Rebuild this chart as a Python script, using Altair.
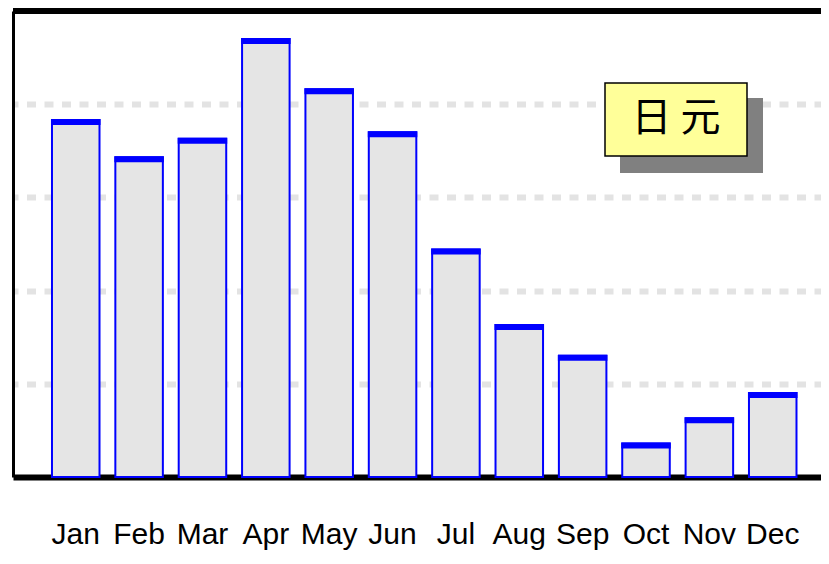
import altair as alt
import pandas as pd

months = ["Jan", "Feb", "Mar", "Apr", "May", "Jun", "Jul", "Aug", "Sep", "Oct", "Nov", "Dec"]
values = [3.83, 3.43, 3.63, 4.70, 4.16, 3.70, 2.44, 1.63, 1.30, 0.36, 0.63, 0.90]
legend_label = ["日 元"]
grid_values = [1, 2, 3, 4]

df = pd.DataFrame({"month": months, "value": values})

W = 808
H = 466

x_enc = alt.X("month:N", sort=months,
              scale=alt.Scale(paddingInner=0.25, paddingOuter=0.501, align=0.614, round=False),
              axis=alt.Axis(title=None, labelAngle=0, ticks=False, domain=True,
                            domainColor="black", domainWidth=6,
                            labelFont="Liberation Sans", labelFontSize=30,
                            labelColor="black", labelBaseline="alphabetic",
                            labelPadding=66))
y_enc = alt.Y("value:Q", scale=alt.Scale(domain=[0, 5], nice=False, zero=True),
              axis=alt.Axis(title=None, labels=False, ticks=False, domain=True,
                            domainColor="black", domainWidth=3,
                            values=grid_values, grid=True, gridColor="#e3e3e3",
                            gridWidth=6, gridDash=[9, 8.5], gridDashOffset=4))

bars = alt.Chart(df).mark_bar(fill="#e5e5e5", stroke="#0000ff", strokeWidth=2).encode(
    x=x_enc, y=y_enc)

tops = alt.Chart(df).mark_tick(color="#0000ff", opacity=1, thickness=6, size=49.5,
                               yOffset=2).encode(
    x=alt.X("month:N", sort=months), y="value:Q")

one = pd.DataFrame({"label": legend_label})

top_border = alt.Chart(one).mark_rule(color="black", strokeWidth=6).encode(
    x=alt.value(0), x2=alt.value(W), y=alt.value(0))

shadow = alt.Chart(one).mark_rect(color="#808080").encode(
    x=alt.value(607), x2=alt.value(750), y=alt.value(87), y2=alt.value(162))
box = alt.Chart(one).mark_rect(fill="#ffff99", stroke="black", strokeWidth=1.5).encode(
    x=alt.value(592), x2=alt.value(734), y=alt.value(72), y2=alt.value(145))
txt = alt.Chart(one).mark_text(font="Noto Sans CJK SC", fontSize=40, color="black",
                               align="center", baseline="middle").encode(
    x=alt.value(663), y=alt.value(108), text="label:N")

chart = alt.layer(bars, tops, top_border, shadow, box, txt).properties(
    width=W, height=H,
    autosize=alt.AutoSizeParams(type="none"),
    padding={"left": 5, "top": 3, "right": 0, "bottom": 79},
    background="white",
).configure_view(stroke=None)

chart.save("out.html", embed_options={"renderer": "svg", "actions": False})
